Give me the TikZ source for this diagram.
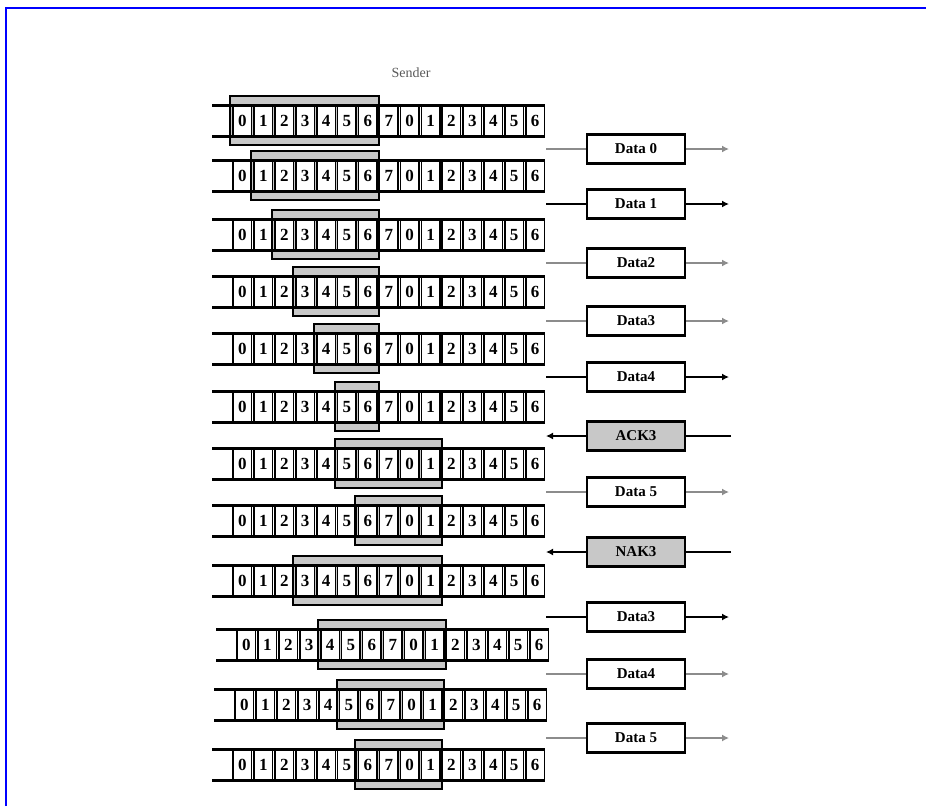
\documentclass[tikz,border=0pt]{standalone}
\usepackage{fontspec}
\setmainfont{Liberation Serif}
\usetikzlibrary{arrows.meta}
\definecolor{edge}{HTML}{0000FF}
\definecolor{win}{HTML}{C8C8C8}
\definecolor{faint}{HTML}{8C8C8C}

\tikzset{
  cell/.style={draw, line width=1.5pt, fill=white, minimum width=18.5pt, minimum height=30pt,
    inner sep=0pt, font=\bfseries\fontsize{17}{17}\selectfont},
  rail/.style={line width=2.2pt},
  winframe/.style={line width=2pt},
  msg/.style={draw, line width=2.6pt, fill=white, minimum width=98pt, minimum height=29pt,
    inner sep=0pt, font=\bfseries\fontsize{15}{15}\selectfont},
  ctrl/.style={msg, fill=win},
  solidlink/.style={line width=1.4pt},
  faintlink/.style={line width=1.4pt, faint},
  tip/.style={-{Latex[length=7pt,width=7pt]}}
}

\begin{document}
\begin{tikzpicture}[x=1pt, y=-1pt]
\useasboundingbox (0,0) rectangle (926,806);
\draw[edge, line width=2.3pt] (6,806) -- (6,8) -- (926,8);

\node[text=black!65, font=\fontsize{14}{14}\selectfont] (sender) at (411,73) {Sender};

% sliding windows: row / centre y / x shift / first / last
\foreach \r/\y/\dx/\a/\b in {1/121/0/0/6, 2/176/0/1/6, 3/235/0/2/6, 4/292/0/3/6,
    5/349/0/4/6, 6/407/0/5/6, 7/464/0/5/9, 8/521/0/6/9, 9/581/0/3/9,
    10/645/4/4/9, 11/705/2/5/9, 12/765/0/6/9} {
  \pgfmathsetmacro\xl{232+\dx+\a*20.9-2}
  \pgfmathsetmacro\xr{232+\dx+(\b+1)*20.9+1}
  \fill[win] (\xl,\y-25) rectangle (\xr,\y+24);
  \draw[rail] (212+\dx,\y-15.5) -- (545+\dx,\y-15.5);
  \draw[rail] (212+\dx,\y+15.5) -- (545+\dx,\y+15.5);
  \foreach \i [evaluate=\i as \d using {int(mod(\i,8))}] in {0,...,14}
    \node[cell] (c\r-\i) at (232+\dx+\i*20.9+10.45,\y) {\d};
  \draw[winframe] (\xl,\y-25) rectangle (\xr,\y+24);
}

% frames sent to the receiver
\foreach \m/\y/\t/\ls in {a/149/Data 0/faintlink, b/204/Data 1/solidlink,
    c/263/Data2/faintlink, d/321/Data3/faintlink, e/377/Data4/solidlink,
    g/492/Data 5/faintlink, i/617/Data3/solidlink, j/674/Data4/faintlink,
    k/738/Data 5/faintlink} {
  \node[msg] (m\m) at (636,\y) {\t};
  \coordinate (l\m) at (546,\y);
  \coordinate (r\m) at (729,\y);
  \draw[\ls] (l\m) -- (m\m.west);
  \draw[\ls, tip] (m\m.east) -- (r\m);
}

% acknowledgements coming back
\foreach \m/\y/\t in {f/436/ACK3, h/552/NAK3} {
  \node[ctrl] (m\m) at (636,\y) {\t};
  \coordinate (l\m) at (546,\y);
  \coordinate (r\m) at (731,\y);
  \draw[solidlink] (r\m) -- (m\m.east);
  \draw[solidlink, tip] (m\m.west) -- (l\m);
}
\end{tikzpicture}
\end{document}
